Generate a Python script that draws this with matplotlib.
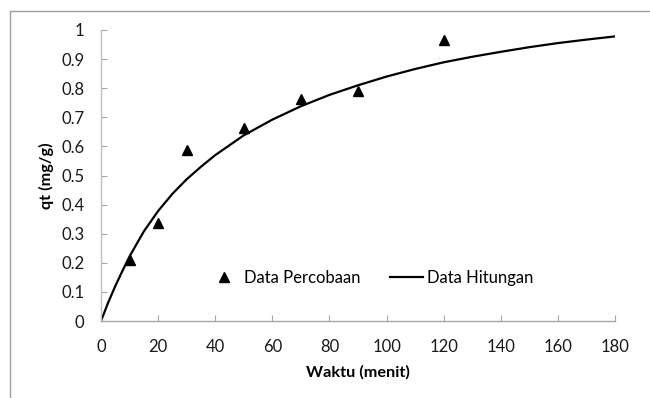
import matplotlib
matplotlib.use("Agg")
import matplotlib.pyplot as plt
from matplotlib.patches import Rectangle

plt.rcParams['font.family'] = ['Lato', 'DejaVu Sans']

# Experimental data (Data Percobaan)
t_exp = [10, 20, 30, 50, 70, 90, 120]
q_exp = [0.21, 0.337, 0.587, 0.663, 0.762, 0.792, 0.966]

# Calculated curve (Data Hitungan)
t_calc = [0, 2.5, 5, 7.5, 10, 15, 20, 25, 30, 35, 40, 50, 60, 70, 80, 90, 100,
          110, 120, 130, 140, 150, 160, 170, 180]
q_calc = [0, 0.063, 0.120, 0.172, 0.222, 0.308, 0.378, 0.437, 0.487, 0.530,
          0.570, 0.638, 0.692, 0.738, 0.777, 0.810, 0.840, 0.866, 0.889,
          0.908, 0.925, 0.941, 0.955, 0.967, 0.978]

xticks = list(range(0, 181, 20))
yticks = [0, 0.1, 0.2, 0.3, 0.4, 0.5, 0.6, 0.7, 0.8, 0.9, 1]
ytick_labels = ['0', '0.1', '0.2', '0.3', '0.4', '0.5', '0.6', '0.7', '0.8', '0.9', '1']

fig = plt.figure(figsize=(6.5, 3.98), dpi=100)
ax = fig.add_axes([101/650, 1-321/398, 514/650, 291/398])

ax.plot(t_exp, q_exp, linestyle='none', marker='^', color='black',
        markersize=6.5, label='Data Percobaan')
ax.plot(t_calc, q_calc, color='black', linewidth=1.6, label='Data Hitungan')

ax.set_xlim(0, 180)
ax.set_ylim(0, 1)
ax.set_xticks(xticks)
ax.set_yticks(yticks)
ax.set_yticklabels(ytick_labels)

for s in ['top', 'right']:
    ax.spines[s].set_visible(False)
ax.spines['left'].set_color('#bfbfbf')
ax.spines['bottom'].set_color('#a6a6a6')
ax.spines['left'].set_linewidth(1.0)
ax.spines['bottom'].set_linewidth(1.0)

ax.tick_params(axis='both', direction='in', length=4, width=0.8,
               color='#a6a6a6', labelsize=12, labelcolor='#1a1a1a')
ax.tick_params(axis='x', pad=13)
ax.tick_params(axis='y', pad=12)

ax.set_xlabel('Waktu (menit)', fontsize=11.7, fontweight='bold', labelpad=7)
ax.set_ylabel('qt (mg/g)', fontsize=11.7, fontweight='bold', labelpad=5)

leg = ax.legend(loc='center', bbox_to_anchor=(370/650, 1-278/398),
                bbox_transform=fig.transFigure, ncol=2, frameon=False,
                fontsize=12, handlelength=2.0, handletextpad=0.2,
                columnspacing=1.8, borderpad=0, borderaxespad=0)

# outer chart border (partially cropped)
fig.patches.append(Rectangle((10/650, -0.1), 1.2, (398-11)/398 + 0.1,
                             transform=fig.transFigure, fill=False,
                             edgecolor='#a0a0a0', linewidth=1.0))

fig.savefig('out.png', dpi=100)
